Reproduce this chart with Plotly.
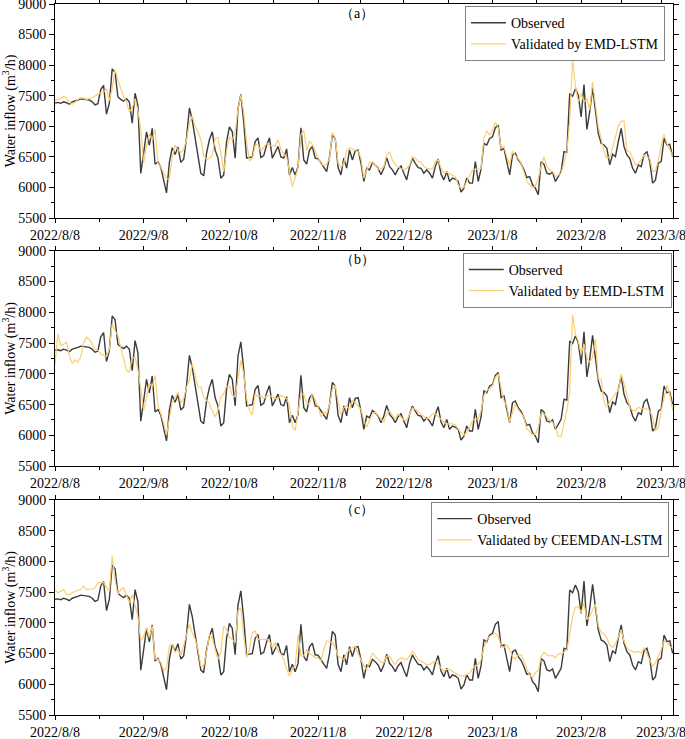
import pandas as pd
import plotly.graph_objects as go

# daily water inflow, 2022/8/8 .. 2023/3/12 (m3/h)
start_date = "2022-08-08"

observed = [
    7383, 7390, 7375, 7400, 7385, 7360, 7400, 7410, 7430, 7450,
    7445, 7430, 7430, 7400, 7350, 7370, 7600, 7670, 7200, 7380,
    7940, 7880, 7480, 7440, 7410, 7450, 7400, 7050, 7540, 7340,
    6230, 6560, 6910, 6690, 6965, 6380, 6420, 6330, 6140, 5910,
    6410, 6650, 6540, 6660, 6410, 6460, 6810, 7300, 7100, 6820,
    6540, 6230, 6190, 6560, 6780, 6910, 6610, 6480, 6150, 6205,
    6750, 6990, 6910, 6480, 7290, 7520, 7070, 6480, 6490, 6500,
    6750, 6810, 6490, 6520, 6690, 6810, 6480, 6590, 6670, 6500,
    6480, 6630, 6205, 6325, 6205, 6340, 6976, 6450, 6380, 6610,
    6670, 6480, 6470, 6400, 6320, 6260, 6500, 6860, 6800, 6325,
    6205, 6480, 6317, 6612, 6450, 6600, 6612, 6400, 6097, 6314,
    6287, 6406, 6368, 6314, 6206, 6314, 6488, 6341, 6287, 6206,
    6303, 6352, 6233, 6124, 6341, 6477, 6395, 6325, 6314, 6233,
    6287, 6233, 6152, 6341, 6466, 6217, 6124, 6260, 6097, 6152,
    6135, 6097, 5923, 5988, 6152, 6070, 6070, 6423, 6097, 6303,
    6721, 6694, 6802, 6829, 6976, 7020, 6612, 6640, 6423, 6206,
    6532, 6559, 6450, 6390, 6287, 6162, 6178, 6043, 5989, 5880,
    6420, 6380, 6233, 6216, 6250, 6097, 6178, 6260, 6585, 6574,
    7535, 7491, 7616, 7508, 7155, 7681, 6949, 7236, 7627, 7236,
    6884, 6721, 6694, 6640, 6368, 6542, 6504, 6748, 6965, 6667,
    6531, 6477, 6314, 6233, 6368, 6341, 6542, 6585, 6422, 6070,
    6124, 6396, 6422, 6802, 6694, 6705, 6504,
]

emd_lstm = [
    7426, 7437, 7453, 7490, 7460, 7400, 7361, 7395, 7440, 7465,
    7460, 7437, 7450, 7470, 7495, 7530, 7546, 7560, 7616, 7420,
    7620, 7926, 7760, 7600, 7480, 7399, 7236, 7300, 7450, 7260,
    6950, 6400, 6680, 6870, 6775, 6949, 6400, 6330, 6250, 6151,
    6124, 6500, 6694, 6612, 6570, 6620, 6780, 7050, 7170, 7000,
    6911, 6780, 6520, 6460, 6477, 6520, 6800, 6820, 6560, 6259,
    6600, 6820, 6780, 6900, 7280, 7508, 7230, 6750, 6433, 6477,
    6690, 6700, 6590, 6660, 6720, 6690, 6680, 6680, 6780, 6620,
    6542, 6500, 6260, 6015, 6151, 6325, 6860, 6940, 6600, 6759,
    6704, 6590, 6480, 6380, 6360, 6379, 6477, 6900, 6802, 6400,
    6325, 6400, 6590, 6650, 6630, 6600, 6596, 6477, 6151, 6270,
    6410, 6400, 6370, 6300, 6300, 6341, 6531, 6585, 6440, 6380,
    6330, 6310, 6287, 6314, 6360, 6503, 6477, 6430, 6411, 6341,
    6314, 6303, 6303, 6420, 6449, 6320, 6240, 6250, 6230, 6205,
    6178, 6042, 5990, 6000, 6100, 6178, 6287, 6300, 6303, 6303,
    6802, 6921, 6860, 6938, 7062, 6976, 6639, 6666, 6503, 6368,
    6596, 6520, 6476, 6400, 6250, 6100, 6040, 5998, 6020, 6150,
    6350, 6503, 6340, 6286, 6260, 6178, 6200, 6232, 6395, 6585,
    7073, 8104, 7643, 7400, 7534, 7400, 7450, 7270, 7724, 7344,
    6991, 6802, 6585, 6476, 6500, 6650, 6850, 7000, 7084, 7084,
    6612, 6585, 6476, 6368, 6395, 6449, 6530, 6500, 6476, 6259,
    6270, 6449, 6693, 6867, 6720, 6620, 6520,
]

eemd_lstm = [
    7150, 7650, 7460, 7480, 7515, 7300, 7170, 7228, 7190, 7272,
    7500, 7596, 7560, 7480, 7407, 7380, 7326, 7300, 7280, 7400,
    7812, 7704, 7620, 7420, 7250, 7060, 7029, 7250, 7272, 7070,
    6750, 6408, 6600, 6840, 6790, 6975, 6500, 6354, 6200, 6003,
    6250, 6540, 6600, 6705, 6530, 6600, 6780, 6900, 7164, 6948,
    6786, 6786, 6624, 6570, 6516, 6400, 6300, 6408, 6620, 6678,
    6800, 6800, 6650, 6624, 6894, 7218, 7000, 6600, 6408, 6327,
    6678, 6624, 6651, 6597, 6640, 6651, 6624, 6597, 6600, 6650,
    6624, 6600, 6489, 6150, 6080, 6408, 6678, 6667, 6516, 6516,
    6678, 6570, 6462, 6300, 6381, 6350, 6500, 6750, 6813, 6550,
    6340, 6450, 6480, 6420, 6565, 6538, 6470, 6420, 6250, 6133,
    6241, 6349, 6376, 6322, 6250, 6214, 6349, 6403, 6322, 6268,
    6349, 6300, 6252, 6241, 6349, 6446, 6420, 6380, 6349, 6295,
    6268, 6295, 6349, 6349, 6300, 6250, 6214, 6187, 6187, 6187,
    6170, 6100, 6040, 5998, 6052, 6133, 6241, 6268, 6268, 6400,
    6650, 6727, 6760, 6808, 6943, 6997, 6781, 6565, 6484, 6214,
    6376, 6511, 6420, 6350, 6295, 6106, 6052, 6014, 6014, 6133,
    6349, 6349, 6300, 6241, 6214, 6133, 5981, 5981, 6187, 6403,
    6700, 7958, 7645, 7537, 7321, 7483, 7267, 7186, 7267, 7564,
    6916, 6916, 6538, 6457, 6538, 6619, 6680, 6727, 6997, 6835,
    6673, 6457, 6403, 6403, 6457, 6430, 6430, 6430, 6403, 6295,
    6079, 6133, 6403, 6619, 6808, 6673, 6403,
]

ceemdan_lstm = [
    7542, 7488, 7515, 7542, 7461, 7461, 7490, 7515, 7530, 7542,
    7596, 7542, 7540, 7550, 7569, 7650, 7660, 7650, 7580, 7515,
    8082, 7700, 7461, 7542, 7569, 7434, 7326, 7460, 7272, 7100,
    6700, 6786, 6921, 6759, 6948, 6408, 6408, 6354, 6219, 6273,
    6624, 6651, 6516, 6570, 6462, 6624, 6786, 6975, 6840, 6732,
    6570, 6300, 6300, 6516, 6813, 6759, 6570, 6408, 6516, 6948,
    6894, 6759, 6732, 6678, 7191, 7245, 6786, 6435, 6570, 6840,
    6867, 6732, 6732, 6732, 6732, 6700, 6597, 6678, 6543, 6489,
    6400, 6246, 6138, 6246, 6300, 6813, 6462, 6462, 6570, 6500,
    6462, 6435, 6435, 6381, 6570, 6705, 6690, 6678, 6597, 6462,
    6430, 6403, 6511, 6565, 6592, 6619, 6500, 6400, 6300, 6241,
    6376, 6511, 6457, 6400, 6360, 6349, 6457, 6457, 6376, 6322,
    6400, 6430, 6420, 6403, 6457, 6540, 6480, 6400, 6376, 6349,
    6322, 6322, 6350, 6380, 6330, 6260, 6214, 6241, 6241, 6210,
    6190, 6150, 6133, 6133, 6160, 6187, 6250, 6300, 6322, 6400,
    6600, 6720, 6780, 6808, 6835, 6780, 6620, 6600, 6640, 6560,
    6457, 6403, 6480, 6480, 6380, 6250, 6150, 6106, 6187, 6220,
    6450, 6520, 6480, 6460, 6468, 6430, 6500, 6490, 6520, 6555,
    6800, 7100, 7260, 7260, 7170, 7321, 7051, 7105, 7213, 7300,
    6950, 6850, 6820, 6750, 6646, 6600, 6650, 6780, 6889, 6700,
    6600, 6550, 6538, 6520, 6538, 6511, 6600, 6500, 6380, 6295,
    6349, 6457, 6560, 6700, 6680, 6620, 6592,
]

model_names = ["EMD-LSTM", "EEMD-LSTM", "CEEMDAN-LSTM"]
panel_labels = ["（a）", "（b）", "（c）"]

tick_dates = ["2022-08-08", "2022-09-08", "2022-10-08", "2022-11-08",
              "2022-12-08", "2023-01-08", "2023-02-08", "2023-03-08"]
tick_text = ["2022/8/8", "2022/9/8", "2022/10/8", "2022/11/8",
             "2022/12/8", "2023/1/8", "2023/2/8", "2023/3/8"]

dates = pd.date_range(start_date, periods=len(observed), freq="D")
tv = pd.to_datetime(tick_dates)
minor_vals = [a + (b - a) / 2 for a, b in zip(tv[:-1], tv[1:])]

OBS_COLOR = "#3c3c3c"
PRED_COLOR = "#FCCD72"
FONT = "Liberation Serif, Times New Roman, serif"

# panel placement (paper coords, plot area = 618 x 711 px)
domains = [[0.699, 1.0], [0.350, 0.653], [0.0, 0.3025]]
legend_pos = [(0.987, 0.997), (0.998, 0.650), (0.994, 0.2995)]
label_y = [0.986, 0.640, 0.2885]

fig = go.Figure()
layout = {}
for i, (pred, name) in enumerate(zip([emd_lstm, eemd_lstm, ceemdan_lstm], model_names)):
    n = "" if i == 0 else str(i + 1)
    leg = "legend" + n
    fig.add_trace(go.Scatter(x=dates, y=observed, mode="lines", name="Observed",
                             line=dict(color=OBS_COLOR, width=1.4),
                             xaxis="x" + n, yaxis="y" + n, legend=leg))
    fig.add_trace(go.Scatter(x=dates, y=pred, mode="lines", name="Validated by " + name,
                             line=dict(color=PRED_COLOR, width=1.2),
                             xaxis="x" + n, yaxis="y" + n, legend=leg))

    layout["xaxis" + n] = dict(
        anchor="y" + n, domain=[0, 1],
        range=["2022-08-08", "2023-03-12 03:00"],
        tickvals=tick_dates, ticktext=tick_text,
        ticks="outside", ticklen=4, tickcolor="black",
        showline=True, linecolor="black", linewidth=1, mirror="ticks",
        showgrid=False, zeroline=False,
        tickfont=dict(size=14, color="black"),
        ticklabeloverflow="allow", automargin=False,
        minor=dict(tickvals=minor_vals, ticks="outside", ticklen=3, tickcolor="black"),
    )
    layout["yaxis" + n] = dict(
        anchor="x" + n, domain=domains[i],
        range=[5500, 9000], tick0=5500, dtick=500,
        ticks="outside", ticklen=5, tickcolor="black",
        showline=True, linecolor="black", linewidth=1, mirror="ticks",
        showgrid=False, zeroline=False,
        tickfont=dict(size=14, color="black"),
        ticklabeloverflow="allow",
        minor=dict(dtick=250, ticks="outside", ticklen=3, tickcolor="black"),
        title=dict(text="Water inflow (m<sup>3</sup>/h)", font=dict(size=14, color="black"),
                   standoff=2),
        automargin=False,
    )
    layout[leg] = dict(
        x=legend_pos[i][0], y=legend_pos[i][1], xanchor="right", yanchor="top",
        bgcolor="white", bordercolor="#808080", borderwidth=1,
        font=dict(size=14, color="black"), itemwidth=35, tracegroupgap=0,
    )

fig.update_layout(**layout)

for i, lab in enumerate(panel_labels):
    fig.add_annotation(x=0.489, y=label_y[i], xref="paper", yref="paper",
                       xanchor="center", yanchor="middle",
                       text=lab, showarrow=False, font=dict(size=14, color="black"))

fig.update_layout(
    width=685, height=739,
    margin=dict(l=55, r=12, t=4, b=24, autoexpand=False),
    paper_bgcolor="white", plot_bgcolor="white",
    font=dict(family=FONT, color="black"),
)

# drop the page's default 8px body margin so the 685x739 figure fills the window
fig.write_html("out.html",
               config={"displayModeBar": False},
               post_script="document.body.style.margin='0';document.body.style.overflow='hidden';")
